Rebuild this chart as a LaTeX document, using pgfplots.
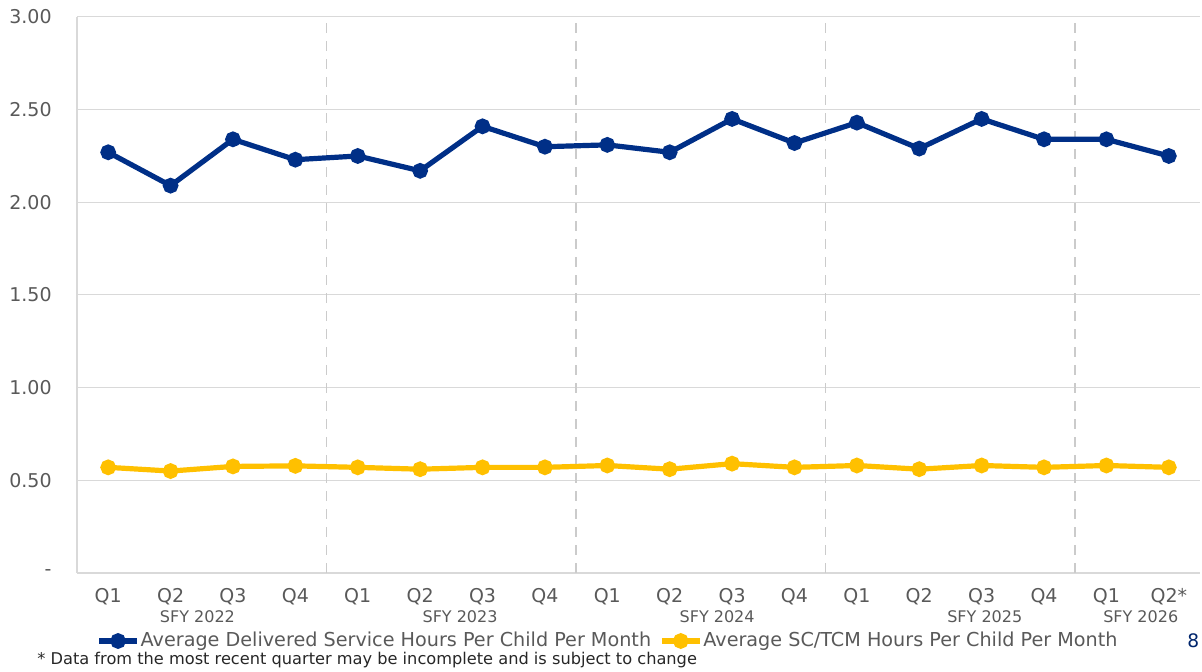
\documentclass[border=0pt]{standalone}
\usepackage{pgfplots}
\pgfplotsset{compat=1.18}
\usepackage{fontspec}
\setmainfont{DejaVu Sans}
\definecolor{navy}{HTML}{002F87}
\definecolor{gold}{HTML}{FFC000}
\definecolor{lbl}{HTML}{595959}
\definecolor{gridc}{HTML}{D9D9D9}
\begin{document}
\begin{tikzpicture}
\useasboundingbox (0,0) rectangle (601pt,336pt);
\begin{axis}[
  at={(38.5pt,49.5pt)}, anchor=south west,
  scale only axis, width=561.5pt, height=278pt,
  xmin=-0.5, xmax=17.5, ymin=0, ymax=3,
  xtick={0,...,17},
  xticklabels={Q1,Q2,Q3,Q4,Q1,Q2,Q3,Q4,Q1,Q2,Q3,Q4,Q1,Q2,Q3,Q4,Q1,Q2*},
  ytick={0,0.5,1,1.5,2,2.5,3},
  yticklabels={{-\hspace{7.5pt}},0.50,1.00,1.50,2.00,2.50,3.00},
  ymajorgrids, major grid style={gridc, line width=0.5pt},
  axis x line*=bottom, axis y line*=left,
  axis line style={-, gridc, line width=0.6pt},
  major tick length=0pt, tick style={draw=none},
  tick label style={font=\fontsize{9.5}{11}\selectfont, text=lbl},
  xticklabel style={anchor=north, inner sep=0pt, yshift=-7.5pt},
  yticklabel style={anchor=east, inner sep=0pt, xshift=-12.5pt},
  extra x ticks={3.5,7.5,11.5,15.5}, extra x tick labels={},
  extra x tick style={grid=major, major grid style={gridc!85!gray, dash pattern=on 5pt off 4pt, line width=0.8pt}},
  clip=false,
  legend columns=2,
  legend cell align=left,
  legend style={at={(0.4724,-0.1223)}, anchor=center, draw=none, fill=none,
    font=\fontsize{9.6}{11}\selectfont, text=lbl, inner sep=0pt,
    nodes={inner xsep=0.5pt, inner ysep=1pt},
    /tikz/every even column/.append style={column sep=3.5pt}},
  legend image code/.code={\draw[line width=2.6pt] (0pt,0pt) -- (19pt,0pt); \fill (9.5pt,0pt) circle (2.6pt);},
]
\addplot[navy, line width=2.6pt, mark=*, mark size=2.6pt] coordinates {
(0,2.27) (1,2.09) (2,2.34) (3,2.23) (4,2.25) (5,2.17) (6,2.41) (7,2.30) (8,2.31)
(9,2.27) (10,2.45) (11,2.32) (12,2.43) (13,2.29) (14,2.45) (15,2.34) (16,2.34) (17,2.25)};
\addlegendentry{Average Delivered Service Hours Per Child Per Month}
\addplot[gold, line width=2.6pt, mark=*, mark size=2.6pt] coordinates {
(0,0.57) (1,0.55) (2,0.575) (3,0.578) (4,0.57) (5,0.56) (6,0.57) (7,0.57) (8,0.58)
(9,0.56) (10,0.59) (11,0.57) (12,0.58) (13,0.56) (14,0.58) (15,0.57) (16,0.58) (17,0.57)};
\addlegendentry{Average SC/TCM Hours Per Child Per Month}
\begin{scope}[every node/.style={font=\fontsize{8}{10}\selectfont, text=lbl, inner sep=0pt}]
\node at (axis cs:1.43,-0.2375) {SFY 2022};
\node at (axis cs:5.64,-0.2375) {SFY 2023};
\node at (axis cs:9.76,-0.2375) {SFY 2024};
\node at (axis cs:14.05,-0.2375) {SFY 2025};
\node at (axis cs:16.55,-0.2375) {SFY 2026};
\end{scope}
\node[anchor=west, inner sep=0pt, font=\fontsize{8.1}{9}\selectfont, text=black!85] at (rel axis cs:-0.0356,-0.1565) {* Data from the most recent quarter may be incomplete and is subject to change};
\node[anchor=west, inner sep=0pt, font=\fontsize{9.3}{11}\selectfont, text=navy!80!black] at (rel axis cs:0.9885,-0.1223) {8};
\end{axis}
\end{tikzpicture}
\end{document}
